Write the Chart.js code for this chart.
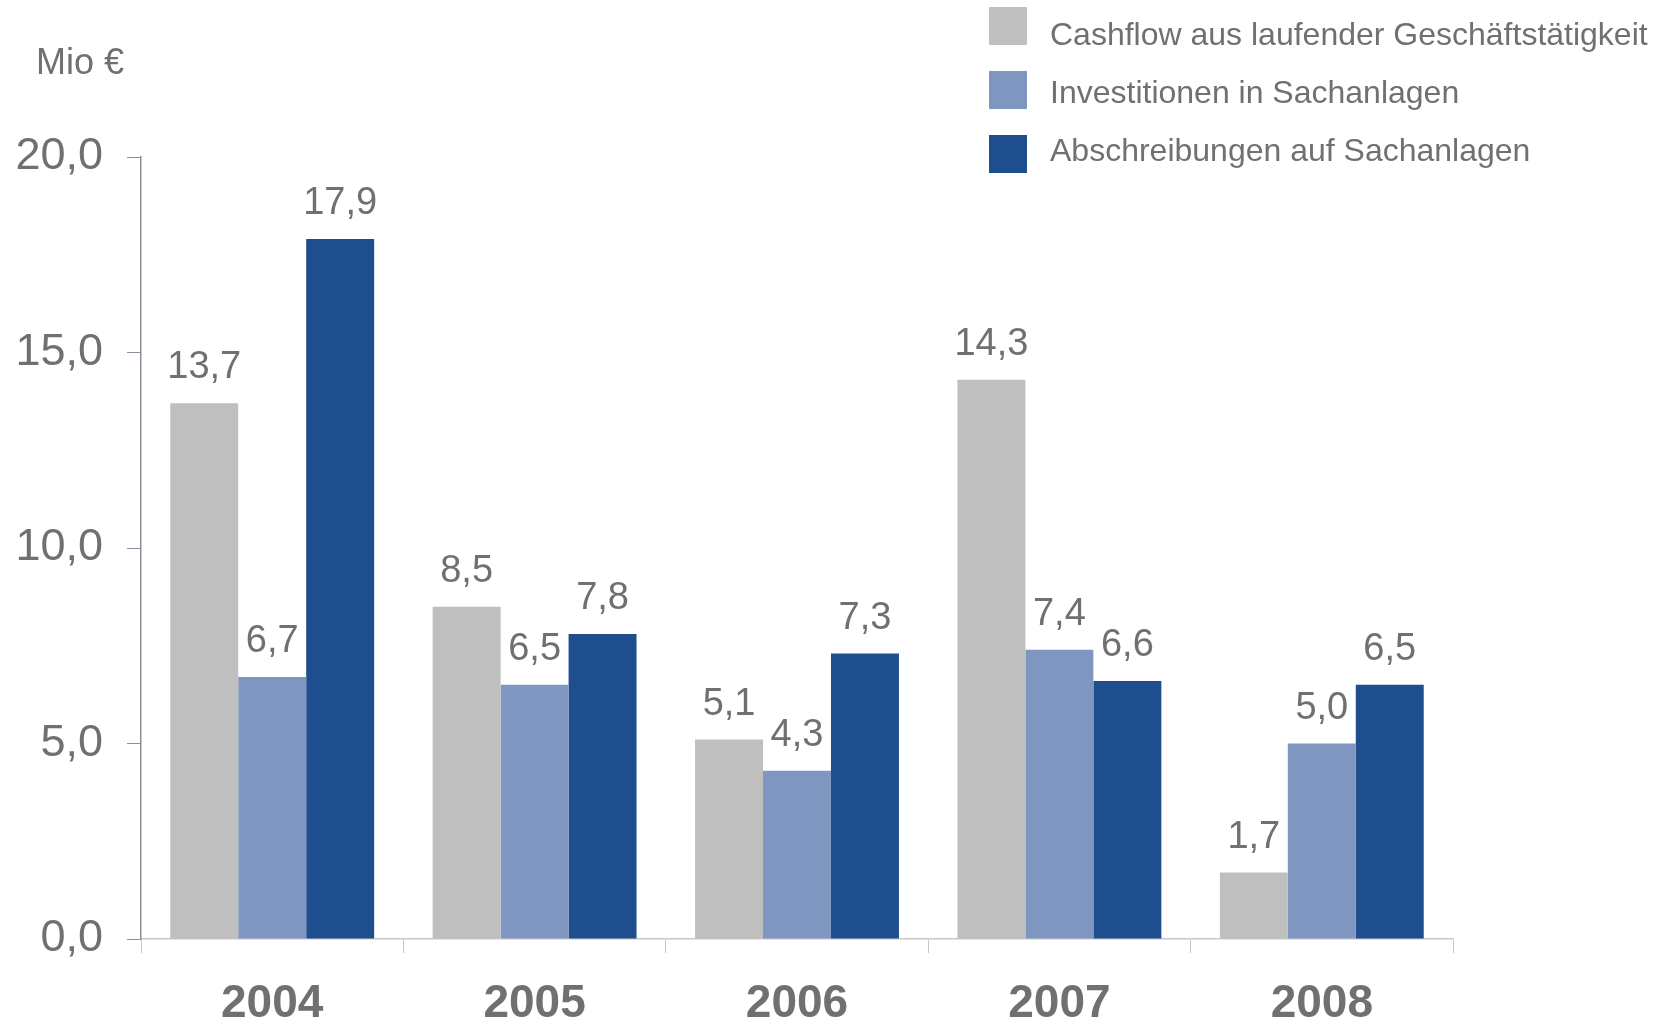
<!DOCTYPE html>
<html>
<head>
<meta charset="utf-8">
<script src="https://cdn.jsdelivr.net/npm/chart.js@4/dist/chart.umd.min.js"></script>
<style>
    body { margin: 0; background: #ffffff; }
    #wrap { width: 1660px; height: 1026px; }
</style>
</head>
<body>
<div id="wrap"><canvas id="lienzo" width="1660" height="1026"></canvas></div>
<script>
const jahre = ["2004", "2005", "2006", "2007", "2008"]
const cashflow = [13.7, 8.5, 5.1, 14.3, 1.7]
const investitionen = [6.7, 6.5, 4.3, 7.4, 5.0]
const abschreibungen = [17.9, 7.8, 7.3, 6.6, 6.5]
const yTicks = [0, 5, 10, 15, 20]

const grau = "#707070"
const fmt = v => v.toFixed(1).replace(".", ",")

// Werte ueber den Balken
const wertePlugin = {
    id: "werte",
    afterDatasetsDraw(chart) {
        let ctx = chart.ctx
        ctx.save()
        ctx.font = "38px 'Liberation Sans', Arial, sans-serif"
        ctx.fillStyle = grau
        ctx.textAlign = "center"
        ctx.textBaseline = "alphabetic"
        chart.data.datasets.forEach((ds, i) => {
            let meta = chart.getDatasetMeta(i)
            meta.data.forEach((bar, j) => {
                ctx.fillText(fmt(ds.data[j]), bar.x, bar.y - 25)
            })
        })
        ctx.restore()
    }
}

// Legende oben rechts und Einheit oben links
const legendePlugin = {
    id: "legende",
    afterDraw(chart) {
        let ctx = chart.ctx
        ctx.save()
        ctx.font = "32px 'Liberation Sans', Arial, sans-serif"
        ctx.textBaseline = "alphabetic"
        chart.data.datasets.forEach((ds, i) => {
            let y = 7 + i * 64
            ctx.fillStyle = ds.backgroundColor
            ctx.fillRect(989, y, 38, 38)
            ctx.fillStyle = grau
            ctx.fillText(ds.label, 1050, 45 + i * 58)
        })
        ctx.font = "36px 'Liberation Sans', Arial, sans-serif"
        ctx.fillText("Mio €", 36, 74)
        ctx.restore()
    }
}

new Chart(document.getElementById("lienzo"), {
    type: "bar",
    data: {
        labels: jahre,
        datasets: [
            { label: "Cashflow aus laufender Geschäftstätigkeit", data: cashflow, backgroundColor: "#bfbfbf" },
            { label: "Investitionen in Sachanlagen", data: investitionen, backgroundColor: "#7f97c0" },
            { label: "Abschreibungen auf Sachanlagen", data: abschreibungen, backgroundColor: "#1f4e8e" }
        ]
    },
    options: {
        responsive: false,
        animation: false,
        datasets: { bar: { categoryPercentage: 0.777, barPercentage: 1.0 } },
        layout: { padding: { top: 157, right: 207, left: 0, bottom: 0 } },
        plugins: {
            legend: { display: false },
            tooltip: { enabled: false }
        },
        scales: {
            x: {
                grid: { display: true, drawOnChartArea: false, drawTicks: true, tickLength: 14, color: "#c8c8c8", offset: true },
                border: { color: "#c8c8c8", width: 1.5 },
                ticks: {
                    padding: 24,
                    color: grau,
                    font: { family: "'Liberation Sans', Arial, sans-serif", size: 46, weight: "bold" }
                },
                afterFit: scale => { scale.height = 87 }
            },
            y: {
                min: 0,
                max: 20,
                afterBuildTicks: scale => { scale.ticks = yTicks.map(v => ({ value: v })) },
                grid: { display: true, drawOnChartArea: false, drawTicks: true, tickLength: 14, color: "#8e8e98" },
                border: { color: "#8e8e98", width: 1.5 },
                ticks: {
                    padding: 24,
                    color: grau,
                    font: { family: "'Liberation Sans', Arial, sans-serif", size: 45 },
                    callback: v => fmt(v)
                },
                afterFit: scale => { scale.width = 141 }
            }
        }
    },
    plugins: [wertePlugin, legendePlugin]
})
</script>
</body>
</html>
